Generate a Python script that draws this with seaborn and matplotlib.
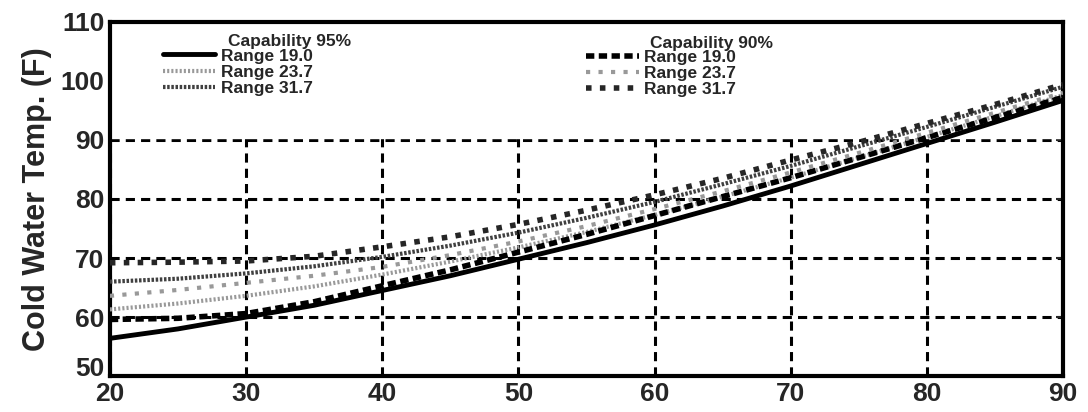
import numpy as np
import pandas as pd
import seaborn as sns
import matplotlib.pyplot as plt

# wet bulb temps (x axis)
wet_bulb = [20, 25, 30, 35, 40, 45, 50, 55, 60, 65, 70, 75, 80, 85, 90]

# Capability 95%
cap95_r19 = [56.4, 58.0, 60.0, 62.0, 64.5, 67.0, 69.8, 72.6, 75.6, 78.8, 82.2, 85.8, 89.4, 93.0, 96.7]
cap95_r237 = [61.3, 62.3, 63.6, 65.2, 67.2, 69.4, 71.8, 74.4, 77.3, 80.4, 83.6, 87.0, 90.5, 94.0, 97.6]
cap95_r317 = [66.0, 66.5, 67.4, 68.6, 70.2, 72.1, 74.3, 76.8, 79.5, 82.5, 85.6, 88.9, 92.2, 95.6, 99.0]

# Capability 90%
cap90_r19 = [59.6, 59.8, 60.6, 62.6, 65.3, 68.0, 71.0, 74.0, 77.2, 80.4, 83.6, 87.0, 90.4, 93.8, 97.2]
cap90_r237 = [63.6, 64.6, 65.8, 67.0, 68.5, 70.5, 72.8, 75.4, 78.3, 81.3, 84.5, 87.8, 91.2, 94.6, 98.0]
cap90_r317 = [69.2, 69.3, 69.5, 70.3, 71.9, 73.6, 75.7, 78.1, 80.7, 83.5, 86.6, 89.6, 92.8, 96.0, 99.4]

labels = ['Range 19.0', 'Range 23.7', 'Range 31.7']

sns.set_style('white')
plt.rcParams['font.family'] = ['Liberation Sans', 'DejaVu Sans']
plt.rcParams['font.weight'] = 'bold'

fig = plt.figure(figsize=(10.88, 4.12), dpi=100)
ax = fig.add_axes([0.101, 0.087, 0.876, 0.86])

# styles: (color, linestyle, linewidth)
styles95 = [('black', '-', 3.5), ('0.6', (0, (0.5, 0.5)), 3.0), ('0.25', (0, (0.6, 0.4)), 3.0)]
styles90 = [('black', (0, (1.5, 0.8)), 4.0), ('0.6', (0, (1, 2)), 3.0), ('0.15', (0, (1, 1.5)), 4.0)]

h95, h90 = [], []
for vals, (c, ls, lw) in zip([cap95_r19, cap95_r237, cap95_r317], styles95):
    sns.lineplot(x=wet_bulb, y=vals, ax=ax, color=c, linestyle=ls, linewidth=lw, zorder=3)
    h95.append(ax.lines[-1])
for vals, (c, ls, lw) in zip([cap90_r19, cap90_r237, cap90_r317], styles90):
    sns.lineplot(x=wet_bulb, y=vals, ax=ax, color=c, linestyle=ls, linewidth=lw, zorder=3)
    h90.append(ax.lines[-1])

ax.set_xlim(20, 90)
ax.set_ylim(50, 110)
ax.set_xticks(range(20, 91, 10))
ax.set_yticks(range(50, 111, 10))

ax.set_axisbelow(True)
ax.grid(True, color='black', linestyle=(0, (3, 2)), linewidth=2.2)
# legend area blanks out the grid above 90
ax.axhspan(90.4, 110, color='white', zorder=1)

for s in ax.spines.values():
    s.set_linewidth(3)
    s.set_color('black')
ax.tick_params(direction='in', top=True, right=True, length=5, width=1.5,
               labelsize=19, pad=4)
for t in ax.get_xticklabels() + ax.get_yticklabels():
    t.set_fontweight('bold')
# bottom y label sits a bit above the corner, clear of the "20"
ax.get_yticklabels()[0].set_verticalalignment('baseline')

ax.set_xlabel('')
ax.set_ylabel('Cold Water Temp. (F)', fontsize=22, fontweight='bold', labelpad=6)

leg1 = ax.legend(h95, labels, loc='upper left', bbox_to_anchor=(0.056, 0.925),
                 frameon=False, handlelength=3.0, handletextpad=0.3, labelspacing=0.05,
                 borderpad=0, borderaxespad=0, prop={'size': 12.5, 'weight': 'bold'})
ax.add_artist(leg1)
leg2 = ax.legend(h90, labels, loc='upper left', bbox_to_anchor=(0.5, 0.92),
                 frameon=False, handlelength=3.0, handletextpad=0.3, labelspacing=0.05,
                 borderpad=0, borderaxespad=0, prop={'size': 12.5, 'weight': 'bold'})
ax.text(0.124, 0.945, 'Capability 95%', transform=ax.transAxes, fontsize=12.5,
        fontweight='bold', va='center', ha='left')
ax.text(0.567, 0.94, 'Capability 90%', transform=ax.transAxes, fontsize=12.5,
        fontweight='bold', va='center', ha='left')

fig.savefig('out.png', dpi=100)
